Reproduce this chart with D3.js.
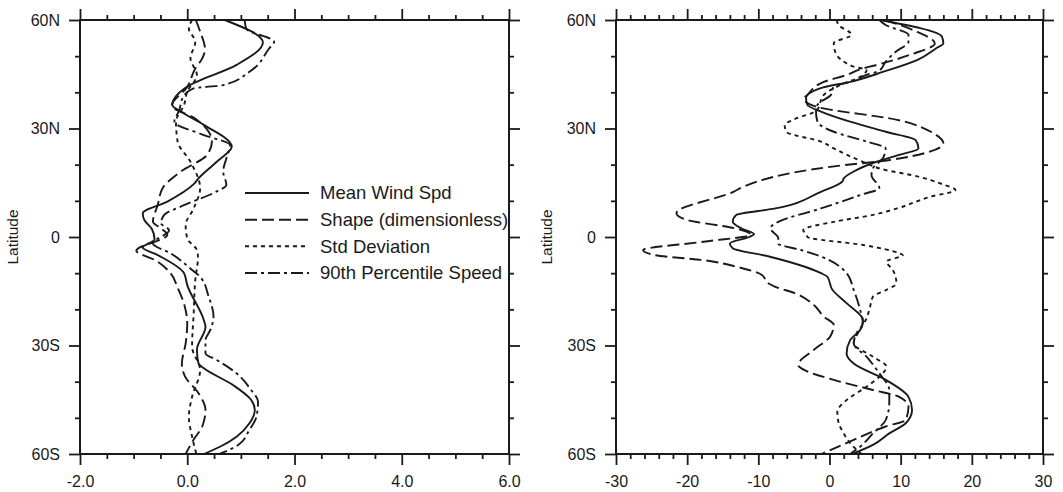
<!DOCTYPE html>
<html>
<head>
<meta charset="utf-8">
<script src="https://cdn.jsdelivr.net/npm/d3@7"></script>
<style>
  body { margin: 0; background: #fff; }
  text { font-family: "Liberation Sans", Arial, sans-serif; fill: #1a1a1a; }
  .tick line { stroke: #1a1a1a; stroke-width: 1.8px; }
  .curve { fill: none; stroke: #1a1a1a; stroke-width: 1.9px; stroke-linejoin: round; }
</style>
</head>
<body>
<div class="chart"></div>
<script>
// [latitude, value] pairs

// left panel
const meanWindA = [[60,0.70],[53.8,1.41],[47.6,0.92],[41.6,0.0],[36.5,-0.28],[34.7,-0.12],[31,0.31],[25,0.83],[20.8,0.55],[16.2,0.21],[14.6,0.12],[9.8,-0.37],[6.5,-0.83],[4.7,-0.80],[2.2,-0.66],[-0.6,-0.61],[-2.9,-0.83],[-5,-0.55],[-10,-0.06],[-13.3,0.0],[-23,0.31],[-24.8,0.34],[-31.2,0.18],[-35,0.21],[-36.3,0.31],[-41,0.86],[-45,1.19],[-47.8,1.26],[-51.5,1.16],[-55.2,0.92],[-58,0.61],[-60,0.31]];
const shapeA = [[60,0.16],[56.8,0.24],[52,0.33],[49.4,0.28],[46.6,0.15],[41.5,0.0],[36.3,-0.29],[33,0.12],[29.1,0.40],[26.4,0.46],[22.7,0.37],[18.1,-0.12],[13.5,-0.46],[8.9,-0.55],[4.2,-0.64],[2.4,-0.49],[0.6,-0.37],[-3.8,-0.95],[-6.4,-0.6],[-10,-0.31],[-14,-0.18],[-19,-0.05],[-23.8,0.0],[-29.4,-0.03],[-35,-0.1],[-38.6,-0.04],[-43.2,0.21],[-47.8,0.34],[-52.4,0.28],[-56,0.12],[-60,-0.03]];
const stdDevA = [[60,0.09],[57.6,0.03],[54,0.15],[49.4,0.06],[44.8,0.18],[40.2,0.0],[36.5,-0.06],[31.9,-0.21],[26.4,-0.18],[20.8,0.06],[13.5,0.24],[7.9,0.12],[3.3,-0.03],[-0.4,0.0],[-3.6,0.18],[-5.5,0.2],[-11.9,0.15],[-21.1,0.12],[-30.3,0.09],[-36.8,0.24],[-44.2,0.09],[-49.7,0.03],[-55.2,0.09],[-60,0.17]];
const pct90A = [[60,1.07],[57.6,1.10],[54,1.62],[52.2,1.53],[45.7,1.16],[42,0.67],[41.1,0.12],[38.6,-0.08],[35,-0.15],[31.9,-0.24],[28.2,0.31],[25.4,0.80],[21.8,0.73],[18.1,0.67],[14.4,0.73],[12.6,0.55],[8.8,-0.06],[6.1,-0.43],[3.8,-0.49],[1.9,-0.34],[-1.8,-0.64],[-4.5,-0.31],[-9.1,0.09],[-11,0.24],[-16.5,0.40],[-22,0.49],[-25.7,0.43],[-28.5,0.34],[-32.2,0.34],[-34,0.55],[-37.7,0.92],[-42.3,1.19],[-45.5,1.32],[-49.7,1.29],[-53.3,1.16],[-57.5,0.95],[-60,0.6]];

// right panel
const meanWindB = [[60,7.0],[55.4,15.8],[53.5,16.0],[52.2,15.0],[48.9,12.3],[45.7,7.6],[42.9,2.9],[41.3,-1.0],[38.4,-3.3],[36.5,-3.1],[34.7,-1.2],[31.9,2.9],[29.1,7.9],[26.8,12.1],[24.5,12.5],[22.7,9.8],[20.8,6.6],[18.1,3.4],[16.2,2.0],[15.3,1.8],[12.5,-1.2],[7.9,-7.6],[6.1,-13.1],[4.2,-13.6],[2.4,-12.4],[0.8,-10.6],[0,-11.3],[-1.8,-14.0],[-3.1,-13.6],[-5.4,-8.5],[-10,-1.2],[-11,-0.3],[-14.6,0.4],[-18.3,2.4],[-23,4.7],[-25.7,4.3],[-28.5,2.9],[-32.2,2.4],[-35,3.4],[-39.5,7.9],[-44.2,11.1],[-47.8,11.6],[-51.5,10.7],[-54.3,8.4],[-57.5,6.1],[-60,3.2]];
const shapeB = [[60,7.8],[57,12],[53.5,14.8],[50.5,11.5],[47.5,6.5],[46.5,4.5],[44.8,2.4],[42.9,-0.8],[39.3,-3.1],[38.2,-3.6],[36,-1.8],[32.4,9.5],[28.7,14.6],[25.9,16.0],[23.6,14.1],[21.3,8.5],[19.4,0.1],[13.9,-12.1],[12.5,-13.5],[6.6,-21.5],[4.7,-20.0],[2.4,-13.3],[0.6,-11.1],[-1.3,-17.7],[-3.6,-26.2],[-5,-24.6],[-6.4,-17.7],[-8.2,-13.1],[-10.5,-9.5],[-12.8,-8.6],[-13.7,-7.7],[-15.5,-4.9],[-18.8,-2.2],[-22,-0.8],[-24.3,0.6],[-27.5,0.1],[-31.2,-2.2],[-35.4,-4.4],[-36.8,-3.5],[-39.5,0.6],[-42.3,6.1],[-44.2,9.8],[-46.9,11.1],[-50.6,10.7],[-52.4,7.9],[-56.1,3.4],[-60,-1.1]];
const stdDevB = [[60,1.0],[58.6,1.3],[55.9,3.1],[53.6,0.6],[51.2,0.8],[47.1,3.4],[46.2,5.2],[44.5,4.5],[42,1.5],[39.3,-0.8],[35,-1.8],[32.5,-5],[31,-6.3],[29.1,-6.1],[26.4,-1.2],[24.5,0.6],[20.8,4.7],[18.5,7.9],[17.1,11.6],[14.5,16],[13,17.7],[11.1,14.1],[7.9,9.5],[6.1,6.1],[4.2,0.6],[1.9,-3.7],[0.6,-3.2],[0,-3.1],[-2.2,4.7],[-4.5,9.8],[-5,10.3],[-6.8,8.0],[-9.1,8.9],[-12.8,9.4],[-14.6,8.0],[-16.5,6.1],[-19.3,5.7],[-22.5,5.2],[-25,4.5],[-29.4,3.4],[-33.1,6.1],[-35.9,8.0],[-37.7,7.5],[-41.4,5.2],[-45.1,2.4],[-48.3,1.1],[-51.5,1.3],[-54.3,2.0],[-57,2.9],[-60,4.5]];
const pct90B = [[60,7.0],[58.6,7.9],[55.9,11.1],[54,11.1],[51.2,9.3],[48.5,7.9],[46,7],[44.8,5.2],[42.9,2.9],[41.6,0.6],[39.3,0.2],[36.5,-1.7],[34.7,-1.9],[31.9,-1.7],[29.1,0.6],[26.4,5.2],[24.5,7.9],[21.8,7.5],[19,6.1],[17.1,5.9],[13.5,7.0],[11.6,4.3],[7.9,-1.2],[4.2,-7.2],[2.4,-8.3],[-0.3,-7.2],[-1.8,-7.2],[-3.6,-4.0],[-5.4,-1.2],[-10,2.4],[-14.6,3.4],[-20.1,4.3],[-23.8,4.7],[-26.6,3.8],[-29.4,3.4],[-33.1,5.2],[-37.7,7.0],[-42.3,8.4],[-45.9,8.4],[-50.6,7.9],[-54.3,6.1],[-58,4.3],[-60,2.9]];

const legendLabels = ['Mean Wind Spd', 'Shape (dimensionless)', 'Std Deviation', '90th Percentile Speed'];
const dashes = ['none', '12,5', '4,4', '12,4,3,4'];

const latTicks = [-60, -30, 0, 30, 60];
const latMinor = [-50, -40, -20, -10, 10, 20, 40, 50];
const xTicksA = [-2, 0, 2, 4, 6];
const xTicksB = [-30, -20, -10, 0, 10, 20, 30];

const w = 1063;
const h = 492;
const plotTop = 20, plotBottom = 454;

const svg = d3.select('.chart')
  .append('svg')
    .attr('width', w)
    .attr('height', h);

const y = d3.scaleLinear().domain([-60, 60]).range([plotBottom, plotTop]);
const latFmt = d => d === 0 ? '0' : Math.abs(d) + (d > 0 ? 'N' : 'S');

function drawPanel (x0, x1, domain, majors, minorStep, fmt, series, labelX) {
  const x = d3.scaleLinear().domain(domain).range([x0, x1]);
  const minors = d3.range(domain[0], domain[1] + 1e-9, minorStep)
    .filter(v => !majors.some(m => Math.abs(m - v) < 1e-9));
  const g = svg.append('g');

  const addAxis = (axis, tr) => {
    const a = g.append('g').attr('transform', tr).call(axis);
    a.select('.domain').remove();
    a.selectAll('text').style('font-size', '16px').style('font-family', '"Liberation Sans", Arial, sans-serif').attr('fill', '#1a1a1a');
    return a;
  };

  // bottom / top
  addAxis(d3.axisBottom(x).tickValues(majors).tickSize(11).tickPadding(11).tickFormat(fmt), `translate(0,${plotBottom})`);
  addAxis(d3.axisBottom(x).tickValues(minors).tickSize(5).tickFormat(''), `translate(0,${plotBottom})`);
  addAxis(d3.axisTop(x).tickValues(majors).tickSize(11).tickFormat(''), `translate(0,${plotTop})`);
  addAxis(d3.axisTop(x).tickValues(minors).tickSize(5).tickFormat(''), `translate(0,${plotTop})`);
  // left / right
  addAxis(d3.axisLeft(y).tickValues(latTicks).tickSize(11).tickPadding(9).tickFormat(latFmt), `translate(${x0},0)`);
  addAxis(d3.axisLeft(y).tickValues(latMinor).tickSize(5).tickFormat(''), `translate(${x0},0)`);
  addAxis(d3.axisRight(y).tickValues(latTicks).tickSize(11).tickFormat(''), `translate(${x1},0)`);
  addAxis(d3.axisRight(y).tickValues(latMinor).tickSize(5).tickFormat(''), `translate(${x1},0)`);

  // frame
  g.append('rect')
    .attr('x', x0).attr('y', plotTop)
    .attr('width', x1 - x0).attr('height', plotBottom - plotTop)
    .attr('fill', 'none')
    .attr('stroke', '#1a1a1a')
    .attr('stroke-width', 2);

  // curves
  const line = d3.line()
    .x(d => x(d[1]))
    .y(d => y(d[0]))
    .curve(d3.curveMonotoneY);
  g.selectAll('.curve')
    .data(series)
    .enter().append('path')
      .attr('class', 'curve')
      .attr('d', d => line(d))
      .attr('stroke-dasharray', (d, i) => dashes[i]);

  // axis title
  g.append('text')
    .attr('transform', `translate(${labelX},${(plotTop + plotBottom) / 2}) rotate(-90)`)
    .attr('text-anchor', 'middle')
    .style('font-size', '15.5px')
    .text('Latitude');
}

drawPanel(80, 509, [-2, 6], xTicksA, 0.5, d => d.toFixed(1), [meanWindA, shapeA, stdDevA, pct90A], 18);
drawPanel(616, 1043, [-30, 30], xTicksB, 2, d => String(d), [meanWindB, shapeB, stdDevB, pct90B], 552);

//legend
const legendY = d3.scalePoint().domain(legendLabels).range([193, 273]);
const leg = svg.append('g');
leg.selectAll('line')
  .data(legendLabels)
  .enter().append('line')
    .attr('x1', 245).attr('x2', 309)
    .attr('y1', d => legendY(d)).attr('y2', d => legendY(d))
    .attr('stroke', '#1a1a1a')
    .attr('stroke-width', 2)
    .attr('stroke-dasharray', (d, i) => dashes[i]);
leg.selectAll('text')
  .data(legendLabels)
  .enter().append('text')
    .attr('x', 320)
    .attr('y', d => legendY(d))
    .attr('dy', '0.35em')
    .style('font-size', '18.5px')
    .text(d => d);
</script>
</body>
</html>
